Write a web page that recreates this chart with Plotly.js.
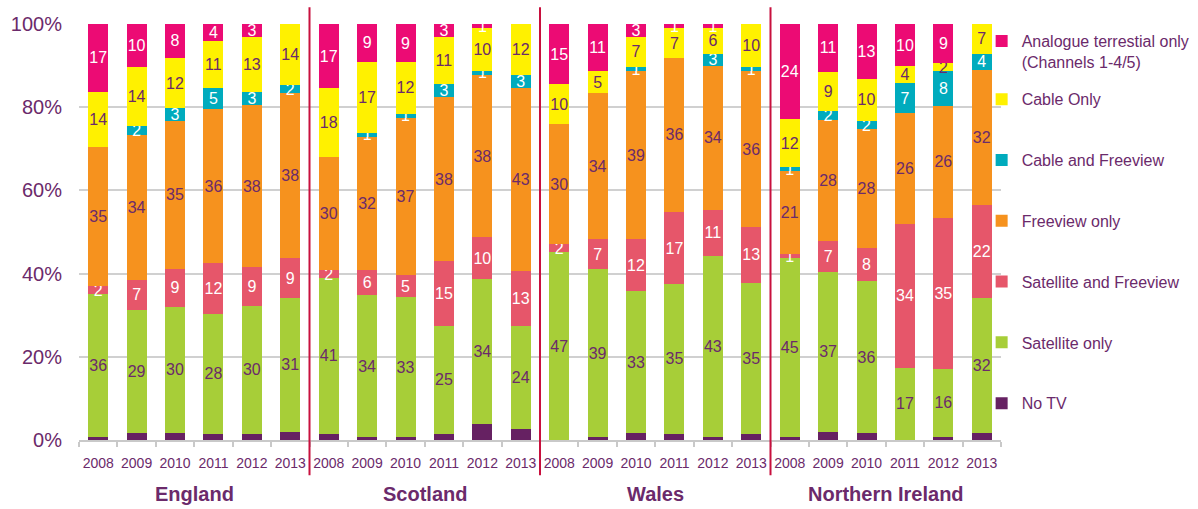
<!DOCTYPE html>
<html><head><meta charset="utf-8">
<script src="https://cdn.plot.ly/plotly-3.0.1.min.js"></script>
<style>html,body{margin:0;padding:0;background:#fff}#chart{width:1198px;height:509px}</style>
</head><body><div id="chart"></div>
<script>
const regions = ['England', 'Scotland', 'Wales', 'Northern Ireland'];
const years = ['2008', '2009', '2010', '2011', '2012', '2013'];
const yTicks = [0, 20, 40, 60, 80, 100];
const yTickText = ['0%', '20%', '40%', '60%', '80%', '100%'];

// values per region (2008..2013), England | Scotland | Wales | Northern Ireland
const analogue   = [17,10,8,4,3,null,   17,9,9,3,1,null,    15,11,3,1,1,null,   24,11,13,10,9,null];
const cableOnly  = [14,14,12,11,13,14,  18,17,12,11,10,12,  10,5,7,7,6,10,      12,9,10,4,2,7];
const cableFree  = [null,2,3,5,3,2,     null,1,1,3,1,3,     null,0,1,null,3,1,  1,2,2,7,8,4];
const freeview   = [35,34,35,36,38,38,  30,32,37,38,38,43,  30,34,39,36,34,36,  21,28,28,26,26,32];
const satFree    = [2,7,9,12,9,9,       2,6,5,15,10,13,     2,7,12,17,11,13,    1,7,8,34,35,22];
const satOnly    = [36,29,30,28,30,31,  41,34,33,25,34,24,  47,39,33,35,43,35,  45,37,36,17,16,32];
const noTV       = [0.7,1.6,1.6,1.5,1.5,1.8, 1.7,0.6,0.6,1.5,3.7,2.7, 0,0.6,1.6,1.5,0.6,1.5, 0.7,1.8,1.6,0,0.6,1.6];

const seriesNames = ['No TV','Satellite only','Satellite and Freeview','Freeview only','Cable and Freeview','Cable Only','Analogue terrestial only<br>(Channels 1-4/5)'];
const seriesValues = [noTV, satOnly, satFree, freeview, cableFree, cableOnly, analogue];
const seriesColors = ['#662162','#A7CE38','#E6566A','#F6921E','#00ABBD','#FFF100','#EC0B74'];
const labelColors  = [null,'#6B2A6B','#ffffff','#6B2A6B','#ffffff','#6B2A6B','#ffffff'];

const purple = '#6B2A6B';
const font = 'Arial, "Liberation Sans", sans-serif';

const cats = [];
regions.forEach(r => years.forEach(y => cats.push(r + ' ' + y)));
const tickText = [];
regions.forEach(() => years.forEach(y => tickText.push(y)));

const traces = seriesValues.map((vals, i) => ({
  type: 'bar',
  name: seriesNames[i],
  x: cats,
  y: vals,
  marker: {color: seriesColors[i], line: {width: 0}},
  text: labelColors[i] ? vals.map(v => v == null ? '' : String(v)) : null,
  textposition: labelColors[i] ? 'inside' : 'none',
  insidetextanchor: 'middle',
  textangle: 0,
  constraintext: 'none',
  textfont: {family: font, size: 16, color: labelColors[i] || purple},
  legend: i === 6 ? 'legend' : 'legend2',
  legendgroup: 'g' + i,
  legendrank: 100 - i,
  hoverinfo: 'name+y'
}));

const shapes = [];
for (let g = 1; g < regions.length; g++) {
  shapes.push({type: 'line', xref: 'x', yref: 'paper', x0: g * years.length - 0.5, x1: g * years.length - 0.5,
    y0: -0.085, y1: 1.04, line: {color: '#C8103E', width: 2}});
}
const annotations = regions.map((r, g) => ({
  text: '<b>' + r + '</b>', xref: 'x', yref: 'paper', x: g * years.length + (years.length - 1) / 2,
  y: -0.13, yanchor: 'middle', xanchor: 'center', showarrow: false,
  font: {family: font, size: 20, color: purple}
}));

const layout = {
  width: 1198, height: 509,
  margin: {l: 79, r: 197, t: 24, b: 69, autoexpand: false},
  paper_bgcolor: '#fff', plot_bgcolor: '#fff',
  barmode: 'stack', barnorm: 'percent', bargap: 0.48,
  font: {family: font, color: purple},
  showlegend: true,
  xaxis: {
    type: 'category', tickmode: 'array', tickvals: cats, ticktext: tickText, tickangle: 0,
    tickfont: {family: font, size: 14, color: purple},
    showline: true, linecolor: '#C9C9C9', linewidth: 2,
    ticks: 'outside', tickson: 'boundaries', ticklen: 5, tickcolor: '#C9C9C9', tickwidth: 2,
    showgrid: false, range: [-0.5, 23.5], fixedrange: true, ticklabelstandoff: 9
  },
  yaxis: {
    range: [0, 100], tickmode: 'array', tickvals: yTicks, ticktext: yTickText,
    tickfont: {family: font, size: 20, color: purple},
    showgrid: true, gridcolor: '#D0D0D0', gridwidth: 2,
    zeroline: false, showline: false, ticks: '', ticklabelstandoff: 16, fixedrange: true
  },
  legend: {
    x: 0.979, xanchor: 'left', y: 1.0, yanchor: 'top', valign: 'top',
    font: {family: font, size: 16, color: purple}, bgcolor: 'rgba(0,0,0,0)', itemwidth: 30
  },
  legend2: {
    x: 0.979, xanchor: 'left', y: 0.86, yanchor: 'top', valign: 'middle',
    traceorder: 'grouped', tracegroupgap: 37,
    font: {family: font, size: 16, color: purple}, bgcolor: 'rgba(0,0,0,0)', itemwidth: 30
  },
  shapes: shapes,
  annotations: annotations
};

Plotly.newPlot('chart', traces, layout, {displayModeBar: false});
</script></body></html>
